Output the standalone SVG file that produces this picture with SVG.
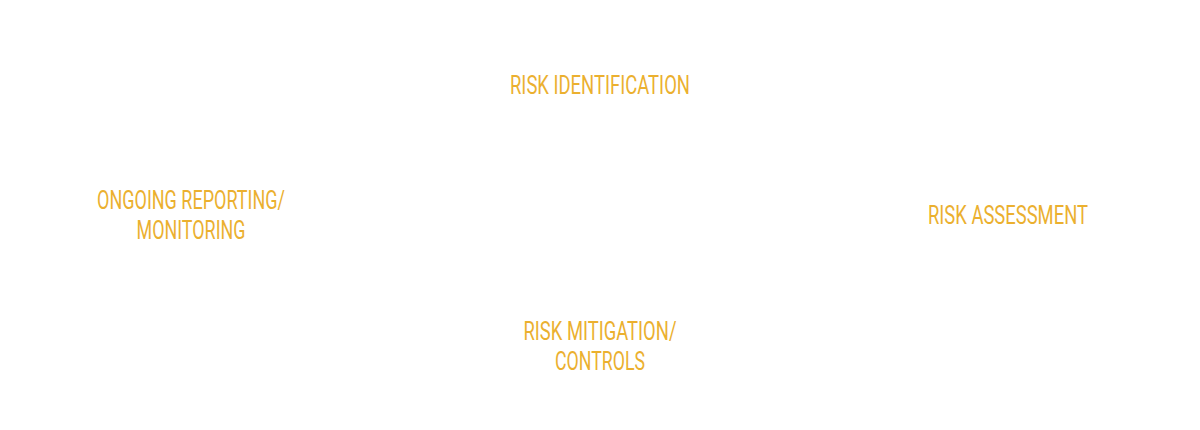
<svg xmlns="http://www.w3.org/2000/svg" width="1200" height="430" viewBox="0 0 1200 430">
<style>
.lbl{font-family:"Roboto","DejaVu Sans Condensed","Liberation Sans",sans-serif;font-size:25.5px;font-weight:400;fill:#EBB02F;text-anchor:middle}
</style>
<rect width="1200" height="430" fill="#FFFFFF"/>
<g id="connectors"></g>
<g id="risk-identification"><text class="lbl" x="600" y="94" textLength="180" lengthAdjust="spacingAndGlyphs">RISK IDENTIFICATION</text></g>
<g id="risk-assessment"><text class="lbl" x="1008" y="224" textLength="160" lengthAdjust="spacingAndGlyphs">RISK ASSESSMENT</text></g>
<g id="risk-mitigation"><text class="lbl" x="600" y="340" textLength="153" lengthAdjust="spacingAndGlyphs">RISK MITIGATION/</text><text class="lbl" x="600" y="370" textLength="90" lengthAdjust="spacingAndGlyphs">CONTROLS</text></g>
<g id="ongoing-reporting"><text class="lbl" x="191" y="209" textLength="188" lengthAdjust="spacingAndGlyphs">ONGOING REPORTING/</text><text class="lbl" x="191" y="239" textLength="109" lengthAdjust="spacingAndGlyphs">MONITORING</text></g>
</svg>
